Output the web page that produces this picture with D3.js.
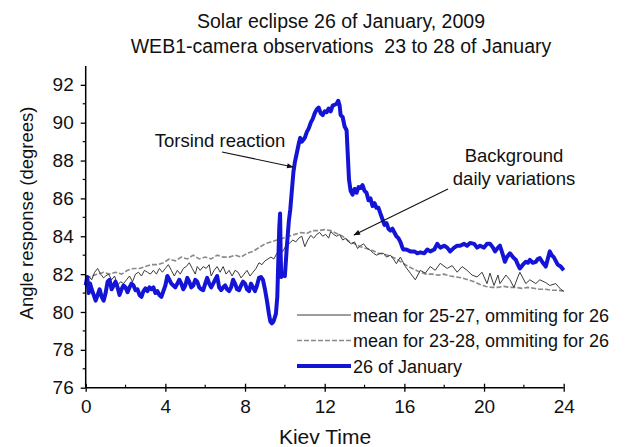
<!DOCTYPE html>
<html><head><meta charset="utf-8">
<script src="https://cdn.jsdelivr.net/npm/d3@7"></script>
<style>body{margin:0;background:#fff;overflow:hidden}svg{display:block}text{font-family:"Liberation Sans",Arial,sans-serif;fill:#111;white-space:pre}</style>
</head><body>
<svg id="c" width="627" height="447"></svg>
<script>
const titleLines = ["Solar eclipse 26 of January, 2009", "WEB1-camera observations  23 to 28 of January"];
const xLabel = "Kiev Time";
const yLabel = "Angle response (degrees)";
const xTicks = [0,4,8,12,16,20,24];
const yTicks = [76,78,80,82,84,86,88,90,92];
const seriesNames = ["mean for 25-27, ommiting for 26","mean for 23-28, ommiting for 26","26 of January"];
const annotations = ["Torsind reaction","Background","daily variations"];

// 26 of January [hour, degrees]
const jan26 = [[0,81.4],[0.08,81.85],[0.15,81.0],[0.22,81.5],[0.3,81.2],[0.4,80.9],[0.5,80.6],[0.6,80.9],[0.7,81.2],[0.8,80.8],[0.9,80.6],[1.0,81.0],[1.1,81.6],[1.2,81.7],[1.3,81.2],[1.4,81.4],[1.5,81.6],[1.6,81.3],[1.7,80.9],[1.8,81.2],[1.9,81.4],[2.0,81.3],[2.1,81.05],[2.2,81.3],[2.3,81.5],[2.4,81.4],[2.5,81.15],[2.6,81.2],[2.7,80.9],[2.8,80.8],[2.9,81.1],[3.0,81.25],[3.1,81.1],[3.2,81.3],[3.3,81.2],[3.4,81.3],[3.5,81.0],[3.6,81.1],[3.7,80.9],[3.8,80.8],[3.9,81.1],[4.0,81.4],[4.1,81.9],[4.2,81.7],[4.3,81.5],[4.4,81.4],[4.5,81.3],[4.6,81.5],[4.7,81.7],[4.8,81.5],[4.9,81.2],[5.0,81.4],[5.1,81.8],[5.2,81.6],[5.3,81.3],[5.4,81.4],[5.5,81.7],[5.6,81.6],[5.7,81.3],[5.8,81.2],[5.9,81.15],[6.0,81.5],[6.1,81.8],[6.2,81.5],[6.3,81.3],[6.4,81.5],[6.5,81.7],[6.6,81.9],[6.7,81.3],[6.8,81.15],[6.9,81.3],[7.0,81.4],[7.1,81.2],[7.2,81.1],[7.3,81.3],[7.4,81.7],[7.5,81.5],[7.6,81.2],[7.7,81.15],[7.8,81.4],[7.9,81.6],[8.0,81.5],[8.1,81.2],[8.2,81.1],[8.3,81.5],[8.4,81.3],[8.5,81.1],[8.6,81.4],[8.7,81.8],[8.8,81.85],[8.9,81.7],[9.0,81.2],[9.1,80.6],[9.2,79.9],[9.27,79.5],[9.35,79.4],[9.43,79.5],[9.55,79.9],[9.62,80.8],[9.67,82.7],[9.72,84.5],[9.76,85.2],[9.79,83.0],[9.82,81.85],[9.9,82.0],[10.0,81.9],[10.1,83.45],[10.2,84.8],[10.27,85.4],[10.35,86.4],[10.43,87.4],[10.5,87.9],[10.6,88.4],[10.7,88.9],[10.77,89.2],[10.85,89.0],[10.93,89.1],[11.0,89.2],[11.1,89.5],[11.2,89.7],[11.3,90.0],[11.4,90.2],[11.5,90.5],[11.6,90.7],[11.7,90.8],[11.8,90.5],[11.9,90.4],[12.0,90.6],[12.1,90.55],[12.2,90.75],[12.3,90.6],[12.4,90.9],[12.5,90.95],[12.6,91.0],[12.68,91.16],[12.75,90.9],[12.8,90.4],[12.9,90.3],[13.0,89.8],[13.1,89.6],[13.15,88.5],[13.22,87.0],[13.3,86.4],[13.4,86.2],[13.5,86.5],[13.6,86.3],[13.7,86.6],[13.8,86.55],[13.9,86.7],[14.0,86.4],[14.1,86.3],[14.2,85.9],[14.3,86.0],[14.4,85.6],[14.5,85.75],[14.6,85.5],[14.7,85.5],[14.8,85.2],[14.9,84.9],[15.0,84.6],[15.1,84.7],[15.2,84.4],[15.3,84.3],[15.4,84.4],[15.5,84.2],[15.6,84.0],[15.7,83.9],[15.8,83.7],[15.9,83.4],[15.95,83.3],[16.1,83.3],[16.3,83.2],[16.5,83.2],[16.65,83.1],[16.8,83.15],[17.0,83.1],[17.15,83.3],[17.3,83.2],[17.5,83.3],[17.65,83.6],[17.8,83.4],[18.0,83.5],[18.15,83.4],[18.3,83.2],[18.5,83.4],[18.65,83.5],[18.8,83.5],[19.0,83.6],[19.15,83.5],[19.3,83.65],[19.5,83.6],[19.65,83.4],[19.8,83.5],[20.0,83.4],[20.15,83.6],[20.3,83.6],[20.45,83.4],[20.55,83.2],[20.7,83.4],[20.8,83.5],[20.95,83.0],[21.05,82.65],[21.15,82.9],[21.3,83.1],[21.45,82.9],[21.6,82.75],[21.7,82.5],[21.8,82.3],[21.95,82.5],[22.1,82.65],[22.2,82.6],[22.3,82.75],[22.45,82.6],[22.6,82.65],[22.7,82.8],[22.8,82.85],[22.95,82.6],[23.1,82.4],[23.2,82.8],[23.3,83.2],[23.4,83.0],[23.5,82.9],[23.6,82.7],[23.7,82.5],[23.85,82.4],[24.0,82.2]];

// mean for 25-27, omitting 26
const mean2527 = [[0,81.5],[0.15,81.9],[0.3,81.7],[0.45,82.1],[0.6,82.3],[0.75,82.0],[0.9,81.8],[1.0,81.9],[1.15,82.0],[1.3,81.7],[1.45,81.9],[1.6,81.4],[1.75,81.6],[1.9,81.5],[2.05,81.7],[2.2,81.9],[2.35,81.6],[2.5,82.0],[2.65,82.1],[2.8,81.9],[2.95,82.2],[3.1,82.1],[3.25,82.0],[3.4,82.2],[3.55,82.0],[3.7,82.3],[3.85,82.1],[4.0,82.3],[4.15,82.5],[4.3,82.2],[4.45,81.9],[4.6,82.2],[4.75,82.0],[4.9,82.3],[5.05,82.4],[5.2,82.6],[5.35,82.3],[5.5,82.0],[5.6,82.4],[5.75,82.2],[5.9,82.4],[6.05,82.3],[6.2,82.5],[6.3,81.9],[6.45,82.2],[6.6,82.4],[6.75,82.1],[6.9,82.4],[7.05,82.0],[7.2,82.2],[7.35,81.9],[7.5,82.2],[7.65,82.1],[7.8,81.8],[7.95,82.0],[8.1,82.2],[8.25,81.9],[8.4,82.1],[8.55,82.3],[8.7,82.6],[8.85,82.5],[9.0,82.7],[9.15,82.8],[9.3,82.9],[9.45,82.8],[9.6,83.1],[9.75,83.3],[9.9,83.2],[10.05,83.5],[10.2,83.6],[10.4,83.8],[10.55,83.7],[10.7,83.9],[10.85,84.0],[11.0,83.45],[11.15,83.8],[11.3,84.05],[11.45,83.9],[11.6,84.1],[11.75,84.2],[11.9,84.0],[12.05,84.1],[12.2,83.9],[12.3,84.25],[12.45,84.1],[12.6,84.0],[12.75,84.1],[12.9,83.8],[13.05,83.9],[13.2,83.7],[13.35,83.6],[13.5,83.7],[13.65,83.35],[13.8,83.5],[13.95,83.6],[14.1,83.4],[14.3,83.25],[14.45,83.1],[14.6,83.0],[14.8,83.1],[14.95,83.1],[15.1,82.9],[15.3,83.0],[15.45,82.8],[15.6,82.55],[15.8,82.9],[15.95,82.6],[16.05,82.4],[16.3,82.05],[16.55,81.7],[16.8,82.2],[17.05,82.05],[17.3,82.4],[17.55,82.2],[17.8,82.57],[18.15,82.3],[18.4,82.45],[18.65,82.1],[18.9,82.4],[19.15,82.2],[19.4,81.95],[19.65,81.85],[19.9,82.1],[20.15,81.5],[20.3,82.05],[20.5,81.4],[20.7,81.95],[20.8,81.5],[21.1,81.95],[21.3,81.7],[21.5,81.3],[21.7,81.85],[21.8,82.1],[22.1,81.5],[22.3,81.7],[22.6,81.5],[22.8,81.7],[23.1,81.55],[23.3,81.4],[23.6,81.5],[23.85,81.2],[24.0,81.1]];

// mean for 23-28, omitting 26
const mean2328 = [[0,81.8],[0.3,81.9],[0.6,82.0],[0.9,82.1],[1.2,82.0],[1.5,82.1],[1.8,82.0],[2.1,82.2],[2.4,82.3],[2.7,82.3],[3.0,82.4],[3.3,82.5],[3.6,82.5],[3.9,82.6],[4.2,82.8],[4.5,82.7],[4.8,82.9],[5.1,82.8],[5.4,83.0],[5.7,82.8],[6.0,82.9],[6.3,82.8],[6.6,83.0],[6.9,82.9],[7.2,82.9],[7.5,83.0],[7.8,82.9],[8.1,83.1],[8.4,83.2],[8.7,83.4],[9.0,83.6],[9.3,83.7],[9.6,83.8],[9.9,83.9],[10.2,84.0],[10.5,84.1],[10.8,84.2],[11.1,84.15],[11.4,84.3],[11.7,84.3],[12.0,84.35],[12.3,84.3],[12.6,84.15],[12.9,84.0],[13.2,83.75],[13.5,83.6],[13.8,83.45],[14.1,83.35],[14.4,83.25],[14.7,83.1],[15.0,83.05],[15.3,82.95],[15.6,82.8],[15.9,82.6],[16.2,82.4],[16.5,82.25],[16.8,82.1],[17.1,82.0],[17.4,82.0],[17.7,81.95],[18.0,82.0],[18.3,81.9],[18.6,81.85],[18.9,81.8],[19.2,81.7],[19.5,81.6],[19.8,81.45],[20.1,81.35],[20.4,81.3],[20.7,81.3],[21.0,81.35],[21.3,81.3],[21.6,81.3],[21.9,81.25],[22.2,81.3],[22.5,81.25],[22.8,81.2],[23.1,81.2],[23.4,81.15],[23.7,81.15],[24.0,81.1]];

const svg = d3.select("#c");
const x = d3.scaleLinear().domain([0,24]).range([85.7,563.7]);
const y = d3.scaleLinear().domain([76,93]).range([387.7,65.9]);

// titles
svg.selectAll("text.title").data(titleLines).join("text").attr("class","title")
  .attr("x",341).attr("y",(d,i)=>28+i*25).attr("text-anchor","middle")
  .style("font-size","19.5px").text(d=>d);

// lines
const line = d3.line().x(d=>x(d[0])).y(d=>y(d[1]));
svg.append("path").datum(mean2328).attr("d",line).attr("fill","none")
  .attr("stroke","#8a8a8a").attr("stroke-width",1.6).attr("stroke-dasharray","5,2");
svg.append("path").datum(mean2527).attr("d",line).attr("fill","none")
  .attr("stroke","#3a3a3a").attr("stroke-width",1);
svg.append("path").datum(jan26).attr("d",line).attr("fill","none")
  .attr("stroke","#1414d6").attr("stroke-width",4).attr("stroke-linejoin","round");

// axes
const yAxis = svg.append("g").attr("transform",`translate(${x(0)},0)`)
  .call(d3.axisLeft(y).tickValues(yTicks).tickSize(5).tickPadding(7).tickFormat(d3.format("d")));
yAxis.select(".domain").attr("d",`M0,${y(93)}V${y(76)}`).attr("stroke-width",1.5);
yAxis.selectAll(".tick line").attr("stroke-width",1.3);
yAxis.selectAll(".tick text").style("font-size","19px").attr("fill","#111");
const yMinor = d3.range(77,93,2);
svg.append("g").selectAll("line").data(yMinor).join("line")
  .attr("x1",x(0)-3).attr("x2",x(0)).attr("y1",d=>y(d)).attr("y2",d=>y(d))
  .attr("stroke","#000").attr("stroke-width",1.2);

const xAxis = svg.append("g").attr("transform",`translate(0,${y(76)})`)
  .call(d3.axisBottom(x).tickValues(xTicks).tickSize(4).tickPadding(8).tickFormat(d3.format("d")));
xAxis.select(".domain").attr("d",`M${x(0)},0H${x(24)}`).attr("stroke-width",1.5);
xAxis.selectAll(".tick line").attr("y1",-4).attr("y2",4).attr("stroke-width",1.3);
xAxis.selectAll(".tick text").style("font-size","19px").attr("fill","#111");
const xMinor = d3.range(2,24,4);
svg.append("g").selectAll("line").data(xMinor).join("line")
  .attr("x1",d=>x(d)).attr("x2",d=>x(d)).attr("y1",y(76)-3).attr("y2",y(76))
  .attr("stroke","#000").attr("stroke-width",1.2);

// axis labels
svg.append("text").attr("x",325).attr("y",444).attr("text-anchor","middle")
  .style("font-size","21px").text(xLabel);
svg.append("text").attr("transform","translate(33,213) rotate(-90)").attr("text-anchor","middle")
  .style("font-size","18.5px").text(yLabel);

// annotations
svg.append("defs").append("marker").attr("id","arr").attr("viewBox","0 0 10 10")
  .attr("refX",9).attr("refY",5).attr("markerWidth",8).attr("markerHeight",6).attr("orient","auto")
  .append("path").attr("d","M0,1L10,5L0,9z").attr("fill","#111");
svg.append("text").attr("x",220).attr("y",147).attr("text-anchor","middle")
  .style("font-size","18.5px").text(annotations[0]);
svg.append("line").attr("x1",222).attr("y1",152).attr("x2",293).attr("y2",167)
  .attr("stroke","#111").attr("stroke-width",1.1).attr("marker-end","url(#arr)");
svg.append("text").attr("x",514).attr("y",162).attr("text-anchor","middle")
  .style("font-size","18.5px").text(annotations[1]);
svg.append("text").attr("x",514).attr("y",185).attr("text-anchor","middle")
  .style("font-size","18.5px").text(annotations[2]);
svg.append("line").attr("x1",448).attr("y1",189).attr("x2",354).attr("y2",235)
  .attr("stroke","#111").attr("stroke-width",1.1).attr("marker-end","url(#arr)");

// legend
const legStyles = [
  {stroke:"#3a3a3a", w:1, dash:null},
  {stroke:"#8a8a8a", w:1.6, dash:"5,2"},
  {stroke:"#1414d6", w:4, dash:null}
];
const leg = svg.append("g").selectAll("g").data(seriesNames).join("g")
  .attr("transform",(d,i)=>`translate(0,${315+i*25.5})`);
leg.append("line").attr("x1",297).attr("x2",351).attr("y1",0).attr("y2",0)
  .attr("stroke",(d,i)=>legStyles[i].stroke).attr("stroke-width",(d,i)=>legStyles[i].w)
  .attr("stroke-dasharray",(d,i)=>legStyles[i].dash);
leg.append("text").attr("x",353).attr("y",6.5).style("font-size","18px").text(d=>d);
</script>
</body></html>
